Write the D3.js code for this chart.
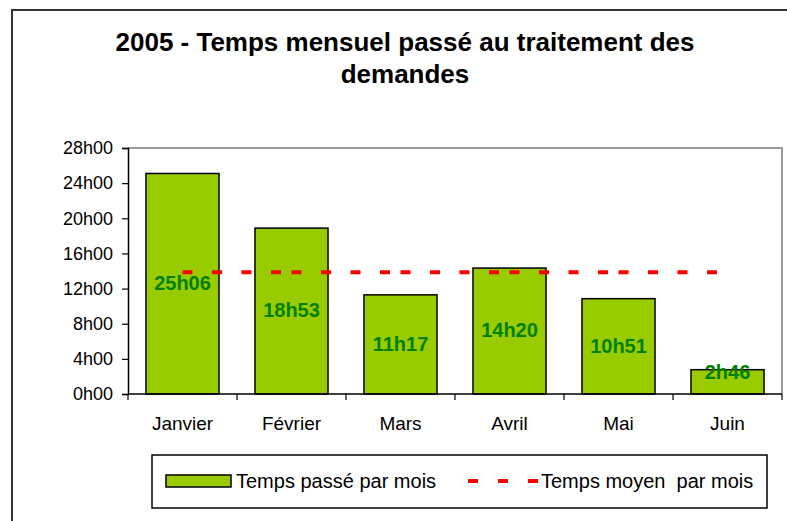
<!DOCTYPE html>
<html>
<head>
<meta charset="utf-8">
<script src="https://cdn.jsdelivr.net/npm/d3@7"></script>
<style>
  html, body { margin: 0; padding: 0; background: #fff; }
  svg { display: block; font-family: "Liberation Sans", Arial, sans-serif; }
</style>
</head>
<body>
<svg id="chart" width="787" height="521"></svg>
<script>
// ---- data ----
const titleLines = ["2005 - Temps mensuel passé au traitement des", "demandes"];
const categories = ["Janvier", "Février", "Mars", "Avril", "Mai", "Juin"];
const values = [25.1, 18.883, 11.283, 14.333, 10.85, 2.767];     // hours
const valueLabels = ["25h06", "18h53", "11h17", "14h20", "10h51", "2h46"];
const averageValue = [13.87];                                      // 13h52
const yTicks = [0, 4, 8, 12, 16, 20, 24, 28];
const yTickLabels = ["0h00", "4h00", "8h00", "12h00", "16h00", "20h00", "24h00", "28h00"];
const legendLabels = ["Temps passé par mois", "Temps moyen  par mois"];

// ---- layout ----
const svg = d3.select("#chart");
const plot = { left: 128, right: 782, top: 148, bottom: 394 };

// outer frame
svg.append("path")
  .attr("d", "M12,521 L12,10 L787,10")
  .attr("fill", "none").attr("stroke", "#333").attr("stroke-width", 2);

// title
svg.append("text")
  .attr("x", 405).attr("y", 51)
  .attr("text-anchor", "middle")
  .attr("font-size", 26).attr("font-weight", "bold")
  .selectAll("tspan").data(titleLines).join("tspan")
  .attr("x", 405).attr("dy", (d, i) => i === 0 ? 0 : 32)
  .text(d => d);

const x = d3.scaleBand().domain(categories)
  .range([plot.left, plot.right]).paddingInner(0.33).paddingOuter(0.165);
const xb = d3.scaleLinear().domain([0, categories.length]).range([plot.left, plot.right]);
const y = d3.scaleLinear().domain([0, 28]).range([plot.bottom, plot.top]);

// plot area border (top & right, gray)
svg.append("path")
  .attr("d", `M${plot.left},${plot.top} L${plot.right},${plot.top} L${plot.right},${plot.bottom}`)
  .attr("fill", "none").attr("stroke", "#9a9a9a").attr("stroke-width", 2);

// bars
svg.append("g").selectAll("rect").data(values).join("rect")
  .attr("x", (d, i) => x(categories[i]))
  .attr("y", d => y(d))
  .attr("width", x.bandwidth())
  .attr("height", d => y(0) - y(d))
  .attr("fill", "#99CC00")
  .attr("stroke", "#000").attr("stroke-width", 1.5);

// average dashed line (each segment restarts the dash pattern)
const centers = categories.map(c => x(c) + x.bandwidth() / 2);
const segs = d3.range(categories.length - 1).map(i => [centers[i], centers[i + 1]]);
svg.append("g").selectAll("line").data(segs).join("line")
  .attr("x1", d => d[0]).attr("x2", d => d[1])
  .attr("y1", y(averageValue[0])).attr("y2", y(averageValue[0]))
  .attr("stroke", "#FF0000").attr("stroke-width", 4)
  .attr("stroke-dasharray", "10,19.5");

// value labels
svg.append("g").selectAll("text").data(values).join("text")
  .attr("x", (d, i) => centers[i])
  .attr("y", d => Math.min((y(d) + y(0)) / 2 - 1, y(0) - 22))
  .attr("dy", "0.36em")
  .attr("text-anchor", "middle")
  .attr("font-size", 20).attr("font-weight", "bold")
  .attr("fill", "#008000")
  .text((d, i) => valueLabels[i]);

// y axis
const yAxis = d3.axisLeft(y).tickValues(yTicks)
  .tickFormat((d, i) => yTickLabels[i]).tickSize(6).tickPadding(9);
const gy = svg.append("g").attr("transform", `translate(${plot.left},0)`).call(yAxis);
gy.select(".domain").attr("stroke", "#000").attr("stroke-width", 1.5);
gy.selectAll(".tick line").attr("stroke", "#000").attr("stroke-width", 1.2);
gy.selectAll(".tick text").attr("font-size", 18).attr("font-family", "Liberation Sans, Arial, sans-serif").attr("fill", "#000");

// x axis line and boundary ticks
svg.append("line")
  .attr("x1", plot.left).attr("x2", plot.right)
  .attr("y1", plot.bottom).attr("y2", plot.bottom)
  .attr("stroke", "#000").attr("stroke-width", 1.5);
svg.append("g").selectAll("line").data(d3.range(categories.length + 1)).join("line")
  .attr("x1", d => xb(d)).attr("x2", d => xb(d))
  .attr("y1", plot.bottom).attr("y2", plot.bottom + 6)
  .attr("stroke", "#000").attr("stroke-width", 1.2);
svg.append("g").selectAll("text").data(categories).join("text")
  .attr("x", (d, i) => centers[i]).attr("y", 430)
  .attr("text-anchor", "middle").attr("font-size", 19)
  .text(d => d);

// legend
const lg = svg.append("g");
lg.append("rect").attr("x", 152).attr("y", 455).attr("width", 615).attr("height", 53)
  .attr("fill", "#fff").attr("stroke", "#000").attr("stroke-width", 1.5);
lg.append("rect").attr("x", 166).attr("y", 475).attr("width", 65).attr("height", 12)
  .attr("fill", "#99CC00").attr("stroke", "#000").attr("stroke-width", 1.5);
lg.append("text").attr("x", 236).attr("y", 488).attr("font-size", 20).text(legendLabels[0]);
lg.append("line").attr("x1", 468).attr("x2", 538).attr("y1", 481).attr("y2", 481)
  .attr("stroke", "#FF0000").attr("stroke-width", 4).attr("stroke-dasharray", "10,20");
lg.append("text").attr("x", 541).attr("y", 488).attr("font-size", 20)
  .attr("xml:space", "preserve").style("white-space", "pre").text(legendLabels[1]);
</script>
</body>
</html>
